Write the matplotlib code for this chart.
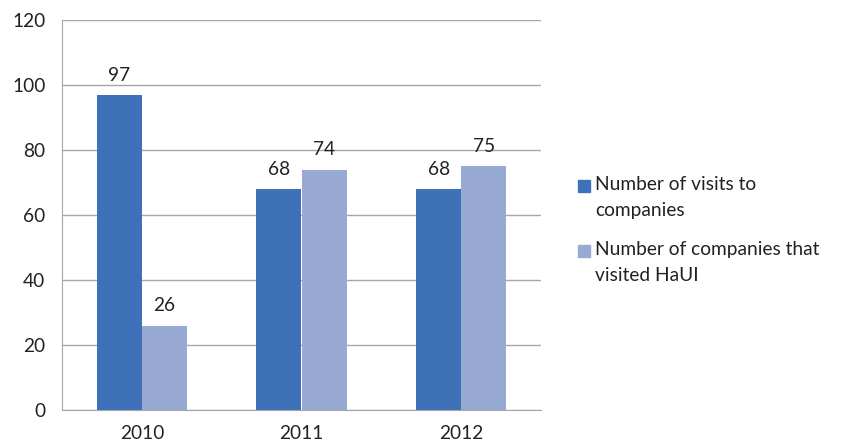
import numpy as np
import matplotlib
matplotlib.use("Agg")
import matplotlib.pyplot as plt
from matplotlib.patches import Rectangle

years = ["2010", "2011", "2012"]
visits = [97, 68, 68]
companies = [26, 74, 75]
series_names = [["Number of visits to", "companies"],
                 ["Number of companies that", "visited HaUI"]]
yticks = [0, 20, 40, 60, 80, 100, 120]

DARK = "#3F71B8"
LIGHT = "#98AAD4"
GRID = "#A6A6A6"
TXT = "#222222"
FS = 13.8

plt.rcParams['font.family'] = ['Lato', 'DejaVu Sans']

W, H = 842, 446
fig = plt.figure(figsize=(W / 100, H / 100), dpi=100)
ax = fig.add_axes([62 / W, 1 - 410 / H, (541 - 62) / W, (410 - 20) / H])

x = np.arange(len(years))
w = 0.283
b1 = ax.bar(x - w / 2, visits, w, color=DARK)
b2 = ax.bar(x + w / 2, companies, w, color=LIGHT)

for bars in (b1, b2):
    ax.bar_label(bars, padding=8, fontsize=FS, color=TXT)

ax.set_xlim(-0.5, 2.5)
ax.set_ylim(0, 120)
ax.set_yticks(yticks)
ax.set_xticks(x)
ax.set_xticklabels(years)
ax.yaxis.grid(True, color=GRID, linewidth=1)
ax.set_axisbelow(True)
for s in ["top", "right"]:
    ax.spines[s].set_visible(False)
for s in ["left", "bottom"]:
    ax.spines[s].set_color(GRID)
ax.tick_params(axis="both", length=0, labelsize=FS, colors=TXT)
ax.tick_params(axis="y", pad=12)
ax.tick_params(axis="x", pad=11)

# legend drawn by hand so the swatch sits by the first line
entries = [(DARK, series_names[0], 190), (LIGHT, series_names[1], 255)]
for color, lines, base in entries:
    top = base - 10
    fig.patches.append(Rectangle((578 / W, 1 - (top + 12) / H), 12 / W, 12 / H,
                                 transform=fig.transFigure, color=color))
    for i, line in enumerate(lines):
        fig.text(595 / W, 1 - (base + i * 26) / H, line, fontsize=FS,
                 color=TXT, va="baseline", ha="left")

fig.savefig("out.png", dpi=100)
